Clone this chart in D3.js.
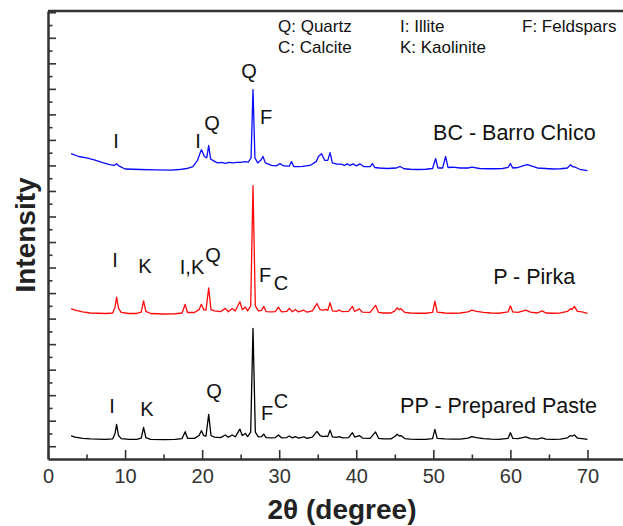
<!DOCTYPE html>
<html>
<head>
<meta charset="utf-8">
<script src="https://cdn.jsdelivr.net/npm/d3@7"></script>
<style>
  body { margin: 0; background: #fff; }
  text { font-family: Arial, "Liberation Sans", Helvetica, sans-serif; }
</style>
</head>
<body>
<div id="chart"></div>
<script>
// XRD patterns, [2theta, intensity (a.u., stacked)]
const barroChico = [
  [3.0, 11.46], [4, 11.35], [5, 11.30], [6, 11.22], [7, 11.12], [8, 11.03], [8.6, 11.00], [8.9, 11.07], [9.2, 10.98],
  [10, 10.86], [12, 10.84], [14, 10.83], [16, 10.82], [17, 10.84], [18, 10.88], [18.8, 10.95], [19.4, 11.2],
  [19.9, 11.62], [20.3, 11.35], [20.6, 11.3], [20.85, 11.78], [21.1, 11.25], [21.5, 11.18], [22, 11.1],
  [22.5, 11.12], [23, 11.08], [23.5, 11.12], [24, 11.1], [24.5, 11.12], [25, 11.12], [25.6, 11.15], [26.0, 11.13],
  [26.35, 11.3], [26.6, 13.97], [26.85, 11.3], [27.2, 11.1], [27.6, 11.2], [27.9, 11.35], [28.2, 11.1], [29, 11.0],
  [29.6, 10.98], [30.1, 11.07], [30.6, 10.98], [31.3, 10.97], [31.6, 11.15], [31.9, 10.95], [32.5, 10.95],
  [33, 10.96], [34, 11.0], [34.8, 11.15], [35.1, 11.35], [35.5, 11.46], [35.9, 11.2], [36.3, 11.2], [36.6, 11.50],
  [36.9, 11.1], [37.5, 11.05], [38.0, 11.05], [38.5, 11.0], [38.8, 11.06], [39.2, 11.0], [39.6, 11.06],
  [40.0, 10.98], [40.5, 11.06], [41.0, 10.95], [41.8, 10.95], [42.1, 11.07], [42.4, 10.92], [43, 10.9],
  [44, 10.88], [45.2, 10.9], [45.7, 10.96], [46.2, 10.87], [47, 10.85], [48, 10.84], [49, 10.85], [49.9, 10.88],
  [50.3, 11.27], [50.6, 10.9], [51.2, 10.9], [51.6, 11.35], [51.9, 10.92], [52.5, 10.93], [53.5, 10.9],
  [54.5, 10.9], [55, 10.93], [56, 10.88], [57, 10.87], [58, 10.87], [59, 10.88], [59.7, 10.92], [60.0, 11.07],
  [60.3, 10.9], [61, 10.92], [61.8, 11.0], [62.2, 11.03], [62.8, 10.97], [63.5, 10.9], [64.5, 10.88],
  [65.5, 10.86], [66.5, 10.87], [67.4, 10.9], [67.8, 11.03], [68.1, 10.95], [68.5, 10.92], [69, 10.85], [70, 10.80]
];

const pirka = [
  [3.0, 5.39], [3.5, 5.33], [4.5, 5.26], [5.5, 5.22], [6.5, 5.21], [7.5, 5.20], [8.4, 5.22], [8.7, 5.45],
  [8.9, 5.84], [9.15, 5.4], [9.5, 5.24], [10.5, 5.20], [11.5, 5.20], [12.1, 5.25], [12.4, 5.69], [12.7, 5.28],
  [13.3, 5.2], [15, 5.18], [16.5, 5.19], [17.4, 5.22], [17.8, 5.56], [18.1, 5.24], [19, 5.24], [19.6, 5.35],
  [19.9, 5.56], [20.2, 5.35], [20.5, 5.33], [20.85, 6.20], [21.15, 5.35], [21.6, 5.3], [22.4, 5.27], [23.0, 5.40],
  [23.4, 5.27], [23.9, 5.40], [24.3, 5.3], [24.9, 5.66], [25.2, 5.35], [25.6, 5.45], [25.9, 5.3], [26.3, 5.5],
  [26.6, 10.21], [26.9, 5.5], [27.3, 5.3], [27.7, 5.32], [28.0, 5.48], [28.3, 5.27], [29, 5.26], [29.5, 5.27],
  [29.9, 5.45], [30.3, 5.26], [31, 5.28], [31.3, 5.40], [31.7, 5.27], [32.1, 5.36], [32.5, 5.26], [33.2, 5.33],
  [33.6, 5.25], [34.3, 5.3], [34.9, 5.59], [35.3, 5.35], [35.7, 5.33], [36.0, 5.36], [36.3, 5.32], [36.6, 5.62],
  [36.9, 5.3], [37.4, 5.28], [37.8, 5.33], [38.2, 5.27], [39.0, 5.28], [39.5, 5.48], [39.8, 5.28], [40.4, 5.38],
  [40.8, 5.25], [41.8, 5.24], [42.5, 5.52], [42.9, 5.24], [43.5, 5.22], [44.5, 5.22], [45.0, 5.3], [45.3, 5.42],
  [45.6, 5.35], [45.8, 5.39], [46.3, 5.24], [47, 5.22], [48, 5.21], [49, 5.21], [49.9, 5.24], [50.2, 5.68],
  [50.5, 5.25], [51.5, 5.22], [52.5, 5.21], [53.5, 5.22], [54.5, 5.26], [55.0, 5.33], [55.6, 5.28], [56.5, 5.24],
  [57.5, 5.22], [58.5, 5.21], [59.7, 5.26], [60.0, 5.50], [60.3, 5.26], [61, 5.24], [62.0, 5.33], [62.6, 5.25],
  [63.5, 5.22], [64.1, 5.30], [64.6, 5.22], [65.5, 5.21], [66.5, 5.22], [67.4, 5.28], [67.8, 5.39], [68.0, 5.36],
  [68.3, 5.48], [68.7, 5.28], [69.3, 5.26], [70, 5.20]
];

const preparedPaste = [
  [3.0, 0.41], [3.5, 0.36], [4.5, 0.31], [5.5, 0.29], [6.5, 0.28], [7.5, 0.27], [8.4, 0.29], [8.7, 0.5],
  [8.9, 0.86], [9.15, 0.42], [9.5, 0.3], [10.5, 0.27], [11.5, 0.27], [12.1, 0.32], [12.4, 0.74], [12.7, 0.34],
  [13.3, 0.27], [15, 0.26], [16.5, 0.27], [17.4, 0.3], [17.8, 0.57], [18.1, 0.31], [19, 0.31], [19.6, 0.42],
  [19.9, 0.61], [20.2, 0.42], [20.5, 0.4], [20.85, 1.25], [21.15, 0.42], [21.6, 0.36], [22.4, 0.34], [23.0, 0.44],
  [23.4, 0.35], [23.9, 0.44], [24.3, 0.37], [24.9, 0.67], [25.2, 0.42], [25.6, 0.5], [25.9, 0.38], [26.3, 0.55],
  [26.6, 4.62], [26.9, 0.55], [27.3, 0.37], [27.7, 0.38], [28.0, 0.47], [28.3, 0.34], [29, 0.33], [29.5, 0.34],
  [29.9, 0.44], [30.3, 0.33], [31, 0.34], [31.3, 0.40], [31.7, 0.33], [32.1, 0.38], [32.5, 0.32], [33.2, 0.37],
  [33.6, 0.31], [34.3, 0.36], [34.9, 0.58], [35.3, 0.42], [35.7, 0.38], [36.0, 0.40], [36.3, 0.38], [36.6, 0.63],
  [36.9, 0.37], [37.4, 0.35], [37.8, 0.38], [38.2, 0.33], [39.0, 0.34], [39.5, 0.53], [39.8, 0.36], [40.4, 0.42],
  [40.8, 0.32], [41.8, 0.31], [42.5, 0.56], [42.9, 0.31], [43.5, 0.29], [44.5, 0.29], [45.0, 0.38], [45.3, 0.47],
  [45.6, 0.40], [45.8, 0.42], [46.3, 0.3], [47, 0.28], [48, 0.27], [49, 0.27], [49.9, 0.3], [50.2, 0.66],
  [50.5, 0.31], [51.5, 0.29], [52.5, 0.28], [53.5, 0.28], [54.5, 0.32], [55.0, 0.38], [55.6, 0.34], [56.5, 0.30],
  [57.5, 0.28], [58.5, 0.27], [59.7, 0.31], [60.0, 0.53], [60.3, 0.31], [61, 0.3], [62.0, 0.37], [62.6, 0.30],
  [63.5, 0.28], [64.1, 0.33], [64.6, 0.28], [65.5, 0.27], [66.5, 0.28], [67.4, 0.33], [67.8, 0.42], [68.0, 0.39],
  [68.3, 0.44], [68.7, 0.32], [69.3, 0.3], [70, 0.27]
];

const seriesNames = ['BC - Barro Chico', 'P - Pirka', 'PP - Prepared Paste'];
const seriesColors = ['#0a0aff', '#ff0a0a', '#000000'];
const nameAt = [[49.97, 12.01], [57.76, 6.34], [45.69, 1.30]];

// phase letters above peaks: [2theta, intensity, label]
const peakLabels = [
  [8.83, 11.70, 'I'], [19.47, 11.70, 'I'], [21.29, 12.40, 'Q'], [26.09, 14.43, 'Q'], [28.30, 12.64, 'F'],
  [8.70, 7.01, 'I'], [12.59, 6.77, 'K'], [18.69, 6.73, 'I,K'], [21.42, 7.20, 'Q'], [28.17, 6.42, 'F'], [30.24, 6.11, 'C'],
  [8.31, 1.30, 'I'], [12.85, 1.18, 'K'], [21.55, 1.89, 'Q'], [28.43, 1.03, 'F'], [30.24, 1.49, 'C']
];

const legendCols = [['Q: Quartz', 'C: Calcite'], ['I: Illite', 'K: Kaolinite'], ['F: Feldspars']];

const xMajor = [0, 10, 20, 30, 40, 50, 60, 70];
const xMinor = [5, 15, 25, 35, 45, 55, 65];
const yMajor = d3.range(0, 18, 1);
const yMinor = d3.range(0.5, 17, 1);

let w = 623, h = 526;
let margin = { top: 11, left: 48 };
let width = 578, height = 448;

let svg = d3.select('#chart').append('svg')
  .attr('width', w)
  .attr('height', h);

let g = svg.append('g').attr('transform', `translate(${margin.left},${margin.top})`);

let x = d3.scaleLinear().domain([0, 75]).range([0, width]);
let y = d3.scaleLinear().domain([-0.5, 17.05]).range([height, 0]);

let axisColor = '#333';

// top frame line
g.append('line')
  .attr('x1', 0).attr('x2', width)
  .attr('y1', 0).attr('y2', 0)
  .attr('stroke', axisColor).attr('stroke-width', 2.5);

// minor ticks first
g.append('g')
  .attr('transform', `translate(0,${height})`)
  .call(d3.axisBottom(x).tickValues(xMinor).tickSize(-4.5).tickFormat(''))
  .call(a => a.select('.domain').remove());
g.append('g')
  .call(d3.axisLeft(y).tickValues(yMinor).tickSize(-4.5).tickFormat(''))
  .call(a => a.select('.domain').remove());

let xAxis = g.append('g')
  .attr('transform', `translate(0,${height})`)
  .call(d3.axisBottom(x).tickValues(xMajor).tickSize(-9).tickSizeOuter(0).tickPadding(10));
xAxis.selectAll('text').attr('font-size', 20).attr('fill', '#333');

let yAxis = g.append('g')
  .call(d3.axisLeft(y).tickValues(yMajor).tickSize(-8).tickSizeOuter(0).tickFormat(''));

g.selectAll('.tick line').attr('stroke', axisColor).attr('stroke-width', 1.6);
g.selectAll('.domain').attr('stroke', axisColor).attr('stroke-width', 2.5);

// patterns
let line = d3.line()
  .x(d => x(d[0]))
  .y(d => y(d[1]));

[barroChico, pirka, preparedPaste].forEach((s, i) => {
  g.append('path')
    .datum(s)
    .attr('fill', 'none')
    .attr('stroke', seriesColors[i])
    .attr('stroke-width', 1.3)
    .attr('stroke-linejoin', 'round')
    .attr('d', line);
});

// peak letters
g.selectAll('.peak-label')
  .data(peakLabels)
  .enter().append('text')
  .attr('class', 'peak-label')
  .attr('x', d => x(d[0]))
  .attr('y', d => y(d[1]))
  .attr('text-anchor', 'middle')
  .attr('font-size', 20)
  .attr('fill', '#111')
  .text(d => d[2]);

// sample names
g.selectAll('.sample-name')
  .data(seriesNames)
  .enter().append('text')
  .attr('class', 'sample-name')
  .attr('x', (d, i) => x(nameAt[i][0]))
  .attr('y', (d, i) => y(nameAt[i][1]))
  .attr('font-size', 21.5)
  .attr('fill', '#111')
  .text(d => d);

// phase key
legendCols.forEach((col, ci) => {
  col.forEach((t, ri) => {
    g.append('text')
      .attr('x', 230 + ci * 122)
      .attr('y', 21 + ri * 21)
      .attr('font-size', 17)
      .attr('fill', '#111')
      .text(t);
  });
});

// axis titles
svg.append('text')
  .attr('x', margin.left + x(37.5) + 5)
  .attr('y', 519)
  .attr('text-anchor', 'middle')
  .attr('font-size', 28)
  .attr('font-weight', 'bold')
  .attr('fill', '#222')
  .text('2θ (degree)');

svg.append('text')
  .attr('transform', `translate(35,${margin.top + height / 2}) rotate(-90)`)
  .attr('text-anchor', 'middle')
  .attr('font-size', 28)
  .attr('font-weight', 'bold')
  .attr('fill', '#222')
  .text('Intensity');
</script>
</body>
</html>
